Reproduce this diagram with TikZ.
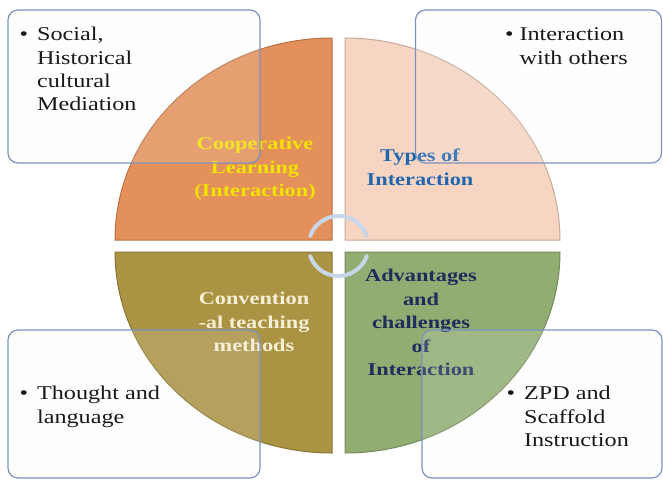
\documentclass[tikz,border=0pt]{standalone}
\usepackage{fontspec}
\setmainfont{Liberation Serif}[FakeStretch=1.24]
\usepackage{tikz}
\usetikzlibrary{positioning}

\definecolor{coopfill}{HTML}{E3905A}
\definecolor{typesfill}{HTML}{F8D5C2}
\definecolor{convfill}{HTML}{AA9342}
\definecolor{advfill}{HTML}{92AD72}
\definecolor{boxline}{HTML}{7B93C0}
\definecolor{boxfill}{HTML}{F6F6FB}
\definecolor{cooptext}{HTML}{F2E200}
\definecolor{typestext}{HTML}{2167B0}
\definecolor{convtext}{HTML}{F6EFD6}
\definecolor{advtext}{HTML}{1F2D5C}
\definecolor{cyclearc}{HTML}{C9D5E8}

\begin{document}
\begin{tikzpicture}
            [x=1pt, y=-1pt,
             quadlabel/.style={inner sep=0pt, align=center, font=\fontsize{18}{23.5}\selectfont\bfseries},
             infobox/.style={draw=boxline, line width=1.2pt, rounded corners=10pt, fill=boxfill, fill opacity=0.15, inner sep=0pt},
             bullettext/.style={inner sep=0pt, anchor=north west, align=left, text=black!90, font=\fontsize{19.5}{23.2}\selectfont}]
            \useasboundingbox (0,0) rectangle (663,480);
            % the four quarters
            \fill[coopfill] (332,240) -- (115,240) arc[start angle=180, end angle=270, x radius=217, y radius=202] -- cycle;
            \draw[coopfill!80!black, line width=1pt] (332,240) -- (115,240) arc[start angle=180, end angle=270, x radius=217, y radius=202] -- cycle;
            \fill[typesfill] (345,240) -- (345,38) arc[start angle=270, end angle=360, x radius=215, y radius=202] -- cycle;
            \draw[typesfill!80!black, line width=1pt] (345,240) -- (345,38) arc[start angle=270, end angle=360, x radius=215, y radius=202] -- cycle;
            \fill[convfill] (332,252) -- (332,453) arc[start angle=90, end angle=180, x radius=217, y radius=201] -- cycle;
            \draw[convfill!80!black, line width=1pt] (332,252) -- (332,453) arc[start angle=90, end angle=180, x radius=217, y radius=201] -- cycle;
            \fill[advfill] (345,252) -- (560,252) arc[start angle=0, end angle=90, x radius=215, y radius=201] -- cycle;
            \draw[advfill!80!black, line width=1pt] (345,252) -- (560,252) arc[start angle=0, end angle=90, x radius=215, y radius=201] -- cycle;

            % arcs in the middle
            \draw[cyclearc, line width=4pt, line cap=round] (338.5,246) ++(200:30) arc[start angle=200, end angle=340, radius=30];
            \draw[cyclearc, line width=4pt, line cap=round] (338.5,246) ++(20:30) arc[start angle=20, end angle=160, radius=30];

            % labels of the quarters
            \node[quadlabel, text=cooptext, anchor=north] (coop) at (255,137) {Cooperative\\Learning\\(Interaction)};
            \node[quadlabel, text=typestext, anchor=north] (types) at (420,149) {Types of\\Interaction};
            \node[quadlabel, text=convtext, anchor=north] (conv) at (254,292) {Convention\\-al teaching\\methods};
            \node[quadlabel, text=advtext, anchor=north] (adv) at (421,269) {Advantages\\and\\challenges\\of\\Interaction};

            % boxes
            \node[infobox, minimum width=252pt, minimum height=153pt] (social) at (134,86.5) {};
            \node[infobox, minimum width=246pt, minimum height=153pt] (others) at (538.5,86.5) {};
            \node[infobox, minimum width=252pt, minimum height=148pt] (thought) at (134,404) {};
            \node[infobox, minimum width=240pt, minimum height=148pt] (zpd) at (542,404) {};

            \node[bullettext] (socialtext) at ([xshift=12pt, yshift=-15pt]social.north west)
                {\textbullet\hspace{9pt}\begin{tabular}[t]{@{}l@{}}Social,\\Historical\\cultural\\Mediation\end{tabular}};
            \node[bullettext] (otherstext) at ([xshift=90pt, yshift=-15pt]others.north west)
                {\textbullet\hspace{6pt}\begin{tabular}[t]{@{}l@{}}Interaction\\with others\end{tabular}};
            \node[bullettext] (thoughttext) at ([xshift=12pt, yshift=-54pt]thought.north west)
                {\textbullet\hspace{9pt}\begin{tabular}[t]{@{}l@{}}Thought and\\language\end{tabular}};
            \node[bullettext] (zpdtext) at ([xshift=85pt, yshift=-54pt]zpd.north west)
                {\textbullet\hspace{9pt}\begin{tabular}[t]{@{}l@{}}ZPD and\\Scaffold\\Instruction\end{tabular}};
        \end{tikzpicture}
\end{document}
